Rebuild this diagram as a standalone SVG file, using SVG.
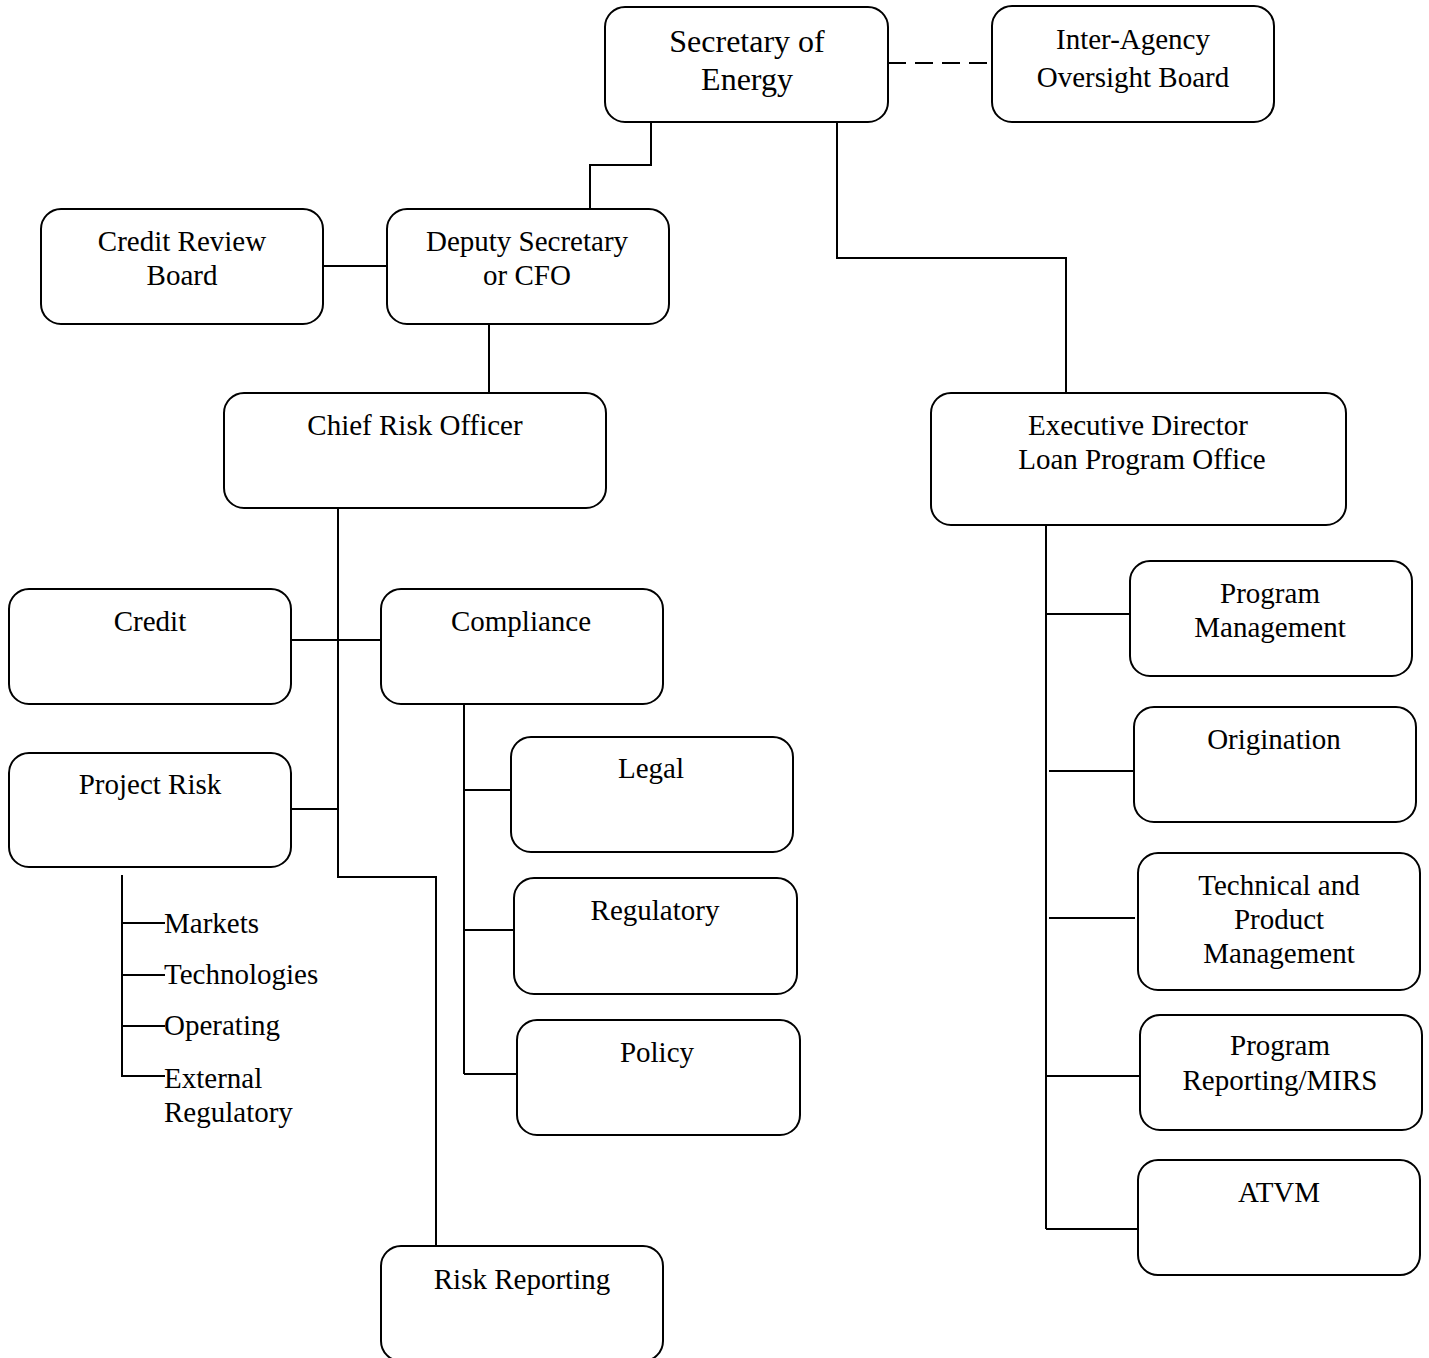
<svg xmlns="http://www.w3.org/2000/svg" width="1429" height="1358" viewBox="0 0 1429 1358">
<style>
.box{fill:#fff;stroke:#000;stroke-width:2}
.t{font-family:"Liberation Serif","Times New Roman",serif;font-size:29px;fill:#000;text-anchor:middle}
.l{text-anchor:start}
.big{font-size:32px}
.c{fill:none;stroke:#000;stroke-width:2}
</style>
<rect width="1429" height="1358" fill="#fff"/>
<g id="connectors">
<line class="c" x1="888" y1="63" x2="992" y2="63" stroke-dasharray="18 9"/>
<polyline class="c" points="651,122 651,165 590,165 590,209"/>
<polyline class="c" points="837,122 837,258 1066,258 1066,393"/>
<line class="c" x1="323" y1="266" x2="387" y2="266"/>
<line class="c" x1="489" y1="324" x2="489" y2="393"/>
<polyline class="c" points="338,508 338,877 436,877 436,1246"/>
<line class="c" x1="291" y1="640" x2="381" y2="640"/>
<line class="c" x1="291" y1="809" x2="338" y2="809"/>
<line class="c" x1="464" y1="704" x2="464" y2="1074"/>
<line class="c" x1="464" y1="790" x2="511" y2="790"/>
<line class="c" x1="464" y1="930" x2="518" y2="930"/>
<line class="c" x1="464" y1="1074" x2="517" y2="1074"/>
<polyline class="c" points="122,875 122,1076 165,1076"/>
<line class="c" x1="122" y1="923" x2="165" y2="923"/>
<line class="c" x1="122" y1="975" x2="165" y2="975"/>
<line class="c" x1="122" y1="1026" x2="165" y2="1026"/>
<line class="c" x1="1046" y1="525" x2="1046" y2="1229"/>
<line class="c" x1="1046" y1="614" x2="1130" y2="614"/>
<line class="c" x1="1049" y1="771" x2="1134" y2="771"/>
<line class="c" x1="1049" y1="918" x2="1135" y2="918"/>
<line class="c" x1="1046" y1="1076" x2="1140" y2="1076"/>
<line class="c" x1="1046" y1="1229" x2="1141" y2="1229"/>
</g>
<g id="secretary"><rect class="box" x="605" y="7" width="283" height="115" rx="20"/><text class="t big" x="747" y="52">Secretary of</text><text class="t big" x="747" y="90">Energy</text></g>
<g id="oversight"><rect class="box" x="992" y="6" width="282" height="116" rx="20"/><text class="t" x="1133" y="49">Inter-Agency</text><text class="t" x="1133" y="87">Oversight Board</text></g>
<g id="credit-review"><rect class="box" x="41" y="209" width="282" height="115" rx="20"/><text class="t" x="182" y="251">Credit Review</text><text class="t" x="182" y="285">Board</text></g>
<g id="deputy"><rect class="box" x="387" y="209" width="282" height="115" rx="20"/><text class="t" x="527" y="251">Deputy Secretary</text><text class="t" x="527" y="285">or CFO</text></g>
<g id="cro"><rect class="box" x="224" y="393" width="382" height="115" rx="20"/><text class="t" x="415" y="435">Chief Risk Officer</text></g>
<g id="exec"><rect class="box" x="931" y="393" width="415" height="132" rx="20"/><text class="t" x="1138" y="435">Executive Director</text><text class="t" x="1142" y="469">Loan Program Office</text></g>
<g id="credit"><rect class="box" x="9" y="589" width="282" height="115" rx="20"/><text class="t" x="150" y="631">Credit</text></g>
<g id="compliance"><rect class="box" x="381" y="589" width="282" height="115" rx="20"/><text class="t" x="521" y="631">Compliance</text></g>
<g id="project-risk"><rect class="box" x="9" y="753" width="282" height="114" rx="20"/><text class="t" x="150" y="794">Project Risk</text></g>
<g id="legal"><rect class="box" x="511" y="737" width="282" height="115" rx="20"/><text class="t" x="651" y="778">Legal</text></g>
<g id="regulatory"><rect class="box" x="514" y="878" width="283" height="116" rx="20"/><text class="t" x="655" y="920">Regulatory</text></g>
<g id="policy"><rect class="box" x="517" y="1020" width="283" height="115" rx="20"/><text class="t" x="657" y="1062">Policy</text></g>
<g id="risk-reporting"><rect class="box" x="381" y="1246" width="282" height="115" rx="20"/><text class="t" x="522" y="1289">Risk Reporting</text></g>
<g id="pr-sub">
<text class="t l" x="164" y="933">Markets</text>
<text class="t l" x="164" y="984">Technologies</text>
<text class="t l" x="164" y="1035">Operating</text>
<text class="t l" x="164" y="1088">External</text>
<text class="t l" x="164" y="1122">Regulatory</text>
</g>
<g id="program-mgmt"><rect class="box" x="1130" y="561" width="282" height="115" rx="20"/><text class="t" x="1270" y="603">Program</text><text class="t" x="1270" y="637">Management</text></g>
<g id="origination"><rect class="box" x="1134" y="707" width="282" height="115" rx="20"/><text class="t" x="1274" y="749">Origination</text></g>
<g id="technical"><rect class="box" x="1138" y="853" width="282" height="137" rx="20"/><text class="t" x="1279" y="895">Technical and</text><text class="t" x="1279" y="929">Product</text><text class="t" x="1279" y="963">Management</text></g>
<g id="reporting-mirs"><rect class="box" x="1140" y="1015" width="282" height="115" rx="20"/><text class="t" x="1280" y="1055">Program</text><text class="t" x="1280" y="1090">Reporting/MIRS</text></g>
<g id="atvm"><rect class="box" x="1138" y="1160" width="282" height="115" rx="20"/><text class="t" x="1279" y="1202">ATVM</text></g>
</svg>
